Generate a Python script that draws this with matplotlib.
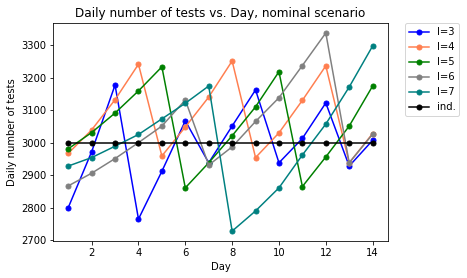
import numpy as np
import matplotlib
matplotlib.use('Agg')
import matplotlib.pyplot as plt

days = list(range(1, 15))

l3 = [2800, 2972, 3177, 2765, 2912, 3067, 2938, 3051, 3162, 2938, 3013, 3122, 2928, 3007]
l4 = [2967, 3039, 3132, 3241, 2959, 3048, 3140, 3251, 2954, 3030, 3130, 3236, 2938, 3028]
l5 = [2981, 3031, 3091, 3159, 3233, 2861, 2938, 3021, 3110, 3218, 2865, 2956, 3051, 3174]
l6 = [2867, 2906, 2951, 3000, 3051, 3131, 2931, 2987, 3065, 3138, 3237, 3337, 2938, 3026]
l7 = [2928, 2954, 2989, 3025, 3073, 3121, 3174, 2728, 2790, 2861, 2962, 3057, 3171, 3297]
ind = [3000] * 14

series = [l3, l4, l5, l6, l7, ind]
labels = ['l=3', 'l=4', 'l=5', 'l=6', 'l=7', 'ind.']
colors = ['blue', 'coral', 'green', 'gray', 'teal', 'black']

fig = plt.figure(figsize=(467 / 72, 278 / 72), dpi=72)
ax = fig.add_axes([0.1135, 0.133, 0.717, 0.784])

for vals, lab, c in zip(series, labels, colors):
    ax.plot(days, vals, marker='o', color=c, label=lab, markersize=5)

ax.set_title('Daily number of tests vs. Day, nominal scenario')
ax.set_xlabel('Day')
ax.set_ylabel('Daily number of tests')
ax.legend(bbox_to_anchor=(1.05, 1), loc='upper left', borderaxespad=0.)

fig.savefig('out.png', dpi=72)
